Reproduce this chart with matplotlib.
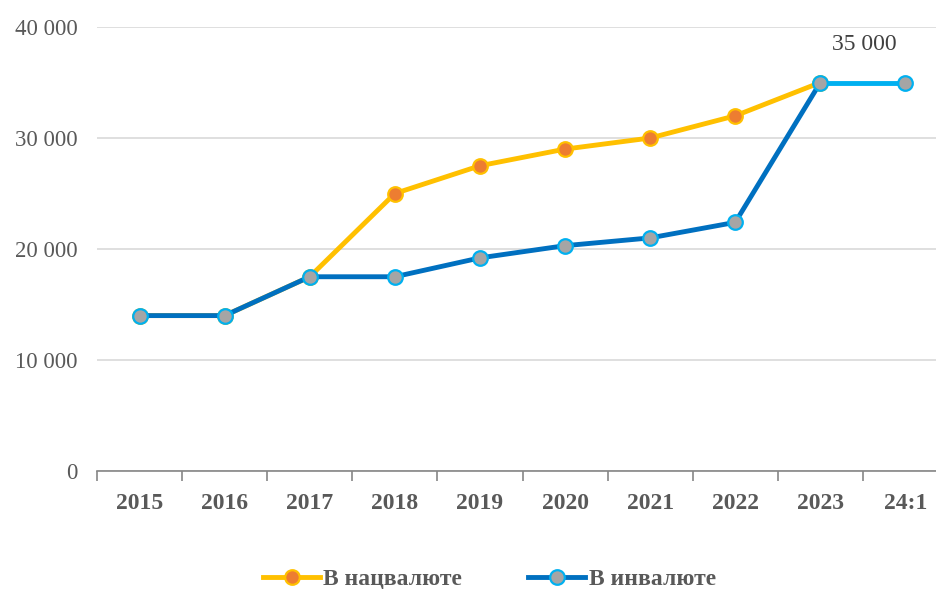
import numpy as np
import matplotlib.pyplot as plt
from matplotlib.lines import Line2D

plt.rcParams['font.family'] = ['Liberation Serif', 'DejaVu Serif']

years = ['2015', '2016', '2017', '2018', '2019', '2020', '2021', '2022', '2023', '24:1']
nac = [14000, 14000, 17500, 25000, 27500, 29000, 30000, 32000, 35000]
inv = [14000, 14000, 17500, 17500, 19200, 20300, 21000, 22400, 35000, 35000]
yticks = [0, 10000, 20000, 30000, 40000]
ylabels = ['0', '10 000', '20 000', '30 000', '40 000']

yellow = '#FFC000'
orange = '#ED7D31'
blue = '#0070C0'
lblue = '#00B0F0'
grey = '#A5A5A5'
txt = '#595959'

fig = plt.figure(figsize=(9.36, 5.89), dpi=100)
ax = fig.add_axes([97 / 936, 118 / 589, 851 / 936, 444 / 589])

x = np.arange(len(years))
lw = 3.5
ms = 10.5

ax.plot(x[:len(nac)], nac, color=yellow, lw=lw, marker='o', ms=ms,
        mfc=orange, mec=yellow, mew=1.6, zorder=3)
# last segment in light blue
ax.plot(x[8:], inv[8:], color=lblue, lw=lw, zorder=4)
ax.plot(x[:9], inv[:9], color=blue, lw=lw, zorder=4)
ax.plot(x, inv, ls='none', marker='o', ms=ms, mfc=grey, mec=lblue,
        mew=1.6, zorder=5)

ax.text(8.52, 37450, '35 000', ha='center', va='bottom', fontsize=17, color='#404040')

ax.set_xlim(-0.5, 9.5)
ax.set_ylim(0, 40000)
ax.set_yticks(yticks)
ax.set_yticklabels(ylabels, fontsize=16.5, color=txt)
ax.tick_params(axis='y', length=0, pad=14)
ax.grid(axis='y', color='#D9D9D9', lw=1.2)
ax.set_axisbelow(True)

ax.set_xticks(np.arange(-0.5, 10, 1))
ax.set_xticklabels([])
ax.tick_params(axis='x', which='major', length=7, color='#868686', width=1.2)
ax.set_xticks(x, minor=True)
ax.set_xticklabels(years, minor=True, fontsize=17, fontweight='bold', color=txt)
ax.tick_params(axis='x', which='minor', length=0, pad=16)

for s in ['top', 'right', 'left']:
    ax.spines[s].set_visible(False)
ax.spines['bottom'].set_color('#868686')
ax.spines['bottom'].set_linewidth(1.2)

handles = [
    Line2D([], [], color=yellow, lw=lw, marker='o', ms=ms, mfc=orange, mec=yellow, mew=1.6),
    Line2D([], [], color=blue, lw=lw, marker='o', ms=ms, mfc=grey, mec=lblue, mew=1.6),
]
fig.legend(handles, ['В нацвалюте', 'В инвалюте'], loc='center', bbox_to_anchor=(0.523, 0.016),
           ncol=2, frameon=False, handlelength=2.4, handletextpad=0.15, columnspacing=2.8,
           prop={'size': 17, 'weight': 'bold'}, labelcolor=txt)

fig.savefig('out.png', dpi=100)
